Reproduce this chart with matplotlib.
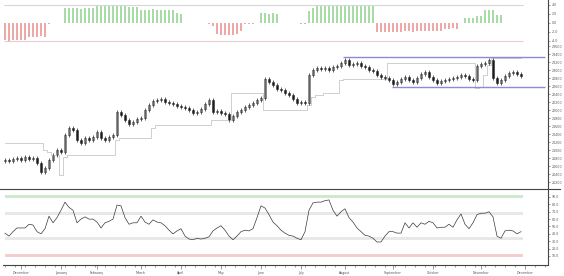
import numpy as np
import matplotlib.pyplot as plt
from matplotlib.lines import Line2D

# daily closes
closes = [20750, 20725, 20775, 20800, 20750, 20825, 20775, 20800, 20675, 20450,
          20550, 20750, 20875, 21000, 20950, 21375, 21550, 21500, 21250, 21175,
          21300, 21250, 21325, 21450, 21300, 21250, 21325, 21375, 21950, 21875,
          21750, 21650, 21700, 21775, 21800, 22000, 22125, 22225, 22250, 22275,
          22200, 22175, 22150, 22100, 22075, 22050, 22000, 21925, 21950, 22025,
          22150, 22250, 21950, 21975, 21925, 21900, 21750, 21850, 21950, 22000,
          22075, 22125, 22175, 22250, 22300, 22775, 22700, 22625, 22525, 22500,
          22425, 22375, 22275, 22175, 22200, 22175, 22875, 23000, 23050, 23025,
          23050, 23000, 23075, 23100, 23175, 23250, 23125, 23150, 23175, 23100,
          23075, 23000, 22975, 22875, 22825, 22800, 22750, 22650, 22700, 22775,
          22825, 22750, 22700, 22800, 22900, 22950, 22825, 22750, 22675, 22725,
          22750, 22775, 22800, 22825, 22875, 22850, 22775, 22750, 23100, 23150,
          23175, 23250, 22800, 22675, 22750, 22850, 22925, 22950, 22900, 22850]
first_open = 20725

# trailing stop (thin grey step line)
stop_line = [21175, 21175, 21175, 21175, 21175, 21175, 21175, 21175, 21175, 21175,
             21000, 20950, 20875, 20875, 20375, 20825, 20875, 20875, 20875, 20875,
             20875, 20875, 20875, 20875, 20875, 20875, 20875, 20875, 21250, 21300,
             21300, 21300, 21300, 21300, 21300, 21300, 21300, 21550, 21625, 21625,
             21625, 21625, 21625, 21625, 21625, 21625, 21625, 21625, 21625, 21625,
             21625, 21625, 21750, 21750, 21750, 21750, 21750, 22425, 22425, 22425,
             22425, 22425, 22425, 22425, 22425, 22000, 22000, 22000, 22000, 22000,
             22000, 22000, 22000, 22000, 22000, 22000, 22125, 22325, 22375, 22375,
             22425, 22425, 22425, 22425, 22750, 22775, 22775, 22775, 22775, 22775,
             22775, 22775, 22775, 22775, 22775, 22775, 23175, 23175, 23175, 23175,
             23175, 23175, 23175, 23175, 23175, 23175, 23175, 23175, 23175, 23175,
             23175, 23175, 23175, 23175, 23175, 23175, 23175, 23175, 22550, 22575,
             22875, 23125, 23300, 23300, 23300, 23300, 23300, 23300, 23300, 23300]

# histogram in the top panel
hist = [-3.8, -3.9, -3.8, -3.8, -3.7, -3.8, -3.1, -3.2, -3.1, -3.0,
        -3.1, -0.2, 0.1, 0.1, 0.1, 3.3, 3.3, 3.4, 3.3, 3.2,
        3.3, 3.3, 3.3, 4.0, 4.0, 3.9, 4.0, 4.0, 4.0, 3.9,
        4.0, 3.6, 3.6, 3.5, 2.9, 2.9, 2.9, 3.0, 2.9, 2.9,
        2.8, 2.9, 2.9, 2.2, 2.1, 0.1, 0.1, 0.1, 0.1, 0.1,
        0.1, -0.2, -0.7, -2.5, -2.7, -2.7, -2.6, -2.7, -2.4, -1.8,
        -0.2, -0.2, -0.2, 0.1, 2.2, 2.2, 2.1, 2.2, 2.0, 0.1,
        0.1, 0.1, 0.1, 0.1, -0.2, -0.2, 2.7, 3.3, 3.9, 4.0,
        4.0, 4.0, 3.9, 4.0, 4.0, 4.0, 4.0, 4.0, 3.9, 4.0,
        4.0, 4.0, 3.9, -2.0, -2.0, -2.0, -1.9, -2.0, -2.0, -2.0,
        -1.8, -1.8, -1.9, -1.8, -1.8, -1.8, -1.7, -1.8, -1.8, -1.7,
        -1.3, -1.3, -1.2, -1.3, 0.1, 1.1, 1.1, 1.2, 1.6, 1.6,
        2.9, 2.9, 2.9, 1.8, 1.8, 0.1, 0.1, 0.1, 0.1, 0.1]

# oscillator in the bottom panel
osc = [41, 37, 43, 48, 48, 48, 53, 52, 43, 40,
       47, 64, 55, 62, 72, 83, 76, 72, 55, 60,
       63, 60, 60, 56, 48, 55, 57, 60, 79, 78,
       62, 53, 55, 55, 64, 56, 53, 59, 56, 55,
       51, 45, 40, 44, 47, 37, 33, 32, 34, 33,
       34, 36, 44, 48, 51, 45, 37, 32, 37, 43,
       45, 44, 47, 62, 78, 75, 66, 56, 51, 45,
       41, 38, 37, 34, 32, 43, 72, 82, 83, 83,
       85, 86, 72, 64, 70, 74, 62, 56, 48, 43,
       38, 37, 34, 29, 29, 37, 43, 43, 41, 41,
       55, 48, 55, 49, 55, 53, 57, 55, 48, 49,
       49, 53, 49, 59, 67, 53, 47, 55, 66, 68,
       68, 70, 63, 37, 34, 44, 45, 44, 40, 43]
osc_bands = [(88, 92, '#cfe9cf'), (66, 70, '#e8e8e8'), (32, 36, '#e8e8e8'), (9, 13, '#f6cdcd')]

# sideways channel
channel_top, channel_top_start = 23325, 84.5
channel_bottom, channel_bottom_start = 22575, 96.75
channel_end = 135

month_pos = [4, 14, 23, 34, 44, 54, 64, 74, 85, 97, 107, 119, 130]
month_names = ['December', 'January', 'February', 'March', 'April', 'May', 'June',
               'July', 'August', 'September', 'October', 'November', 'December']
price_ticks = list(range(20200, 23601, 200))
hist_ticks = [-4, -2, 0, 2, 4]
osc_ticks = [10, 20, 30, 40, 50, 60, 70, 80, 90]

n = len(closes)
x = np.arange(n)
c = np.array(closes, dtype=float)
o = np.array([first_open] + closes[:-1], dtype=float)
wick = 40
hi = np.maximum(o, c) + wick
lo = np.minimum(o, c) - wick

W, H = 564, 276
fig = plt.figure(figsize=(W / 100, H / 100), dpi=100)
fig.patch.set_facecolor('white')


def panel(top, bottom):
    ax = fig.add_axes([3 / W, 1 - bottom / H, 545 / W, (bottom - top) / H])
    ax.set_xlim(-0.5, 135.75)
    for s in ['left', 'top', 'bottom']:
        ax.spines[s].set_visible(False)
    ax.spines['right'].set_color('#444444')
    ax.spines['right'].set_linewidth(0.8)
    ax.yaxis.tick_right()
    ax.tick_params(axis='y', labelsize=2.3, length=1.5, width=0.4, pad=1, colors='#555555')
    ax.set_xticks([])
    return ax


# top histogram
ax_h = panel(0, 44)
ax_h.set_ylim(-4.67, 5.11)
cols = ['#a9dba9' if v >= 0 else '#efa8a8' for v in hist]
ax_h.bar(x, hist, width=0.28, color=cols, linewidth=0)
ax_h.hlines([4, -4], -0.3, 129.5, colors=['#d6d6d6', '#e8cccc'], lw=0.8)
ax_h.set_yticks(hist_ticks)
ax_h.set_yticklabels([f'{v:.1f}' for v in hist_ticks])

# price panel
ax_p = panel(44, 189)
ax_p.set_ylim(20025, 23650)
ax_p.step(x, stop_line, where='mid', color='#c8c8c8', lw=0.6)
ax_p.vlines(x, lo, hi, color='#222222', lw=0.5)
body = np.maximum(np.abs(c - o), 12)
fill = ['white' if cc >= oo else '#111111' for oo, cc in zip(o, c)]
ax_p.bar(x, body, bottom=np.minimum(o, c), width=0.62, color=fill,
         edgecolor='#333333', linewidth=0.4)
ax_p.hlines(channel_top, channel_top_start, channel_end, color='#8a8ad6', lw=1.0)
ax_p.hlines(channel_bottom, channel_bottom_start, channel_end, color='#8a8ad6', lw=1.0)
ax_p.set_yticks(price_ticks)
ax_p.set_yticklabels([str(v) for v in price_ticks])

# oscillator panel
ax_o = panel(189, 265)
ax_o.set_ylim(-2.2, 100.8)
for b0, b1, col in osc_bands:
    ax_o.axhspan(b0, b1, xmin=2 / 545, xmax=520 / 545, color=col, lw=0)
ax_o.plot(x, osc, color='#3a3a3a', lw=0.5)
ax_o.set_yticks(osc_ticks)
ax_o.set_yticklabels([f'{v:.1f}' for v in osc_ticks])
ax_o.spines['bottom'].set_visible(True)
ax_o.spines['bottom'].set_color('#444444')
ax_o.spines['bottom'].set_linewidth(0.8)
ax_o.set_xticks(np.arange(0, 136, 2.5), minor=True)
ax_o.set_xticks(month_pos)
ax_o.set_xticklabels(month_names)
ax_o.tick_params(axis='x', which='both', length=1.5, width=0.4, labelsize=2.3,
                 pad=1.5, colors='#555555')
ax_o.tick_params(axis='x', which='major', length=3)

# separator between price and oscillator
fig.add_artist(Line2D([0, 560 / W], [1 - 189 / H] * 2, color='#444444', lw=0.8))

fig.savefig('out.png', dpi=100)
